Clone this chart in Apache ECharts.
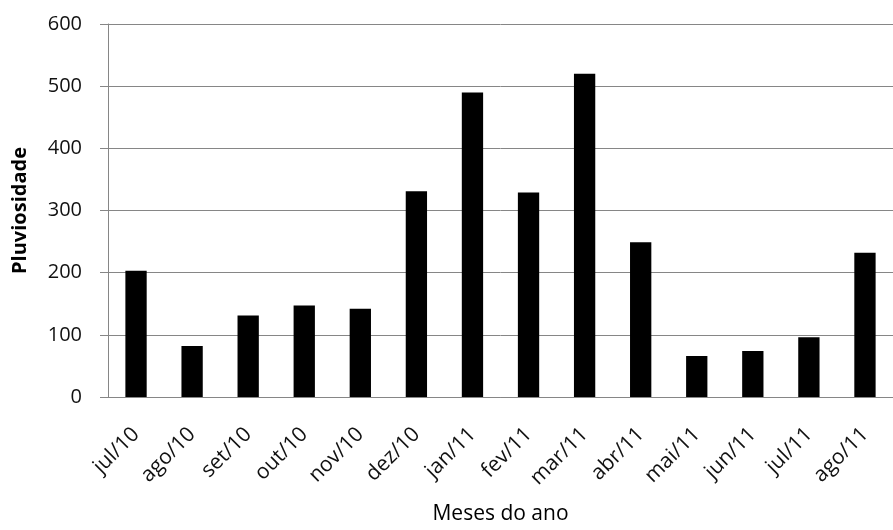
<!DOCTYPE html>
<html>
<head>
<meta charset="utf-8">
<script src="https://cdn.jsdelivr.net/npm/echarts@6/dist/echarts.min.js"></script>
<style>
html,body{margin:0;padding:0;background:#fff;}
#chart{width:893px;height:530px;}
</style>
</head>
<body>
<div id="chart"></div>
<script>
var categories = ["jul/10","ago/10","set/10","out/10","nov/10","dez/10","jan/11","fev/11","mar/11","abr/11","mai/11","jun/11","jul/11","ago/11"];
var rainfall = [203, 82, 131, 147, 142, 331, 490, 329, 520, 249, 66, 74, 96, 232];
var yTicks = [0, 100, 200, 300, 400, 500, 600];
var yAxisTitle = "Pluviosidade";
var xAxisTitle = "Meses do ano";

var chart = echarts.init(document.getElementById('chart'), null, {renderer: 'canvas'});
var font = '"Open Sans", Lato, sans-serif';
chart.setOption({
  animation: false,
  backgroundColor: '#ffffff',
  grid: {left: 108, right: 0, top: 24, bottom: 131, containLabel: false},
  xAxis: {
    type: 'category',
    data: categories,
    axisLine: {show: true, lineStyle: {color: '#868686', width: 1}},
    axisTick: {show: false},
    axisLabel: {rotate: 45, margin: 34, color: '#111', fontFamily: font, fontSize: 21, interval: 0},
    name: xAxisTitle,
    nameLocation: 'middle',
    nameGap: 107,
    nameTextStyle: {color: '#000', fontFamily: font, fontSize: 21}
  },
  yAxis: {
    type: 'value',
    min: yTicks[0],
    max: yTicks[yTicks.length - 1],
    interval: 100,
    axisLine: {show: true, lineStyle: {color: '#868686', width: 1}},
    axisTick: {show: true, length: 8, lineStyle: {color: '#868686'}},
    splitLine: {show: true, lineStyle: {color: '#868686', width: 1}},
    axisLabel: {margin: 26, color: '#111', fontFamily: font, fontSize: 20},
    name: yAxisTitle,
    nameLocation: 'middle',
    nameGap: 78,
    nameRotate: 90,
    nameTextStyle: {color: '#000', fontFamily: font, fontSize: 20, fontWeight: 'bold'}
  },
  series: [{
    type: 'bar',
    data: rainfall,
    barWidth: '38%',
    itemStyle: {color: '#000000'}
  }]
});
</script>
</body>
</html>
